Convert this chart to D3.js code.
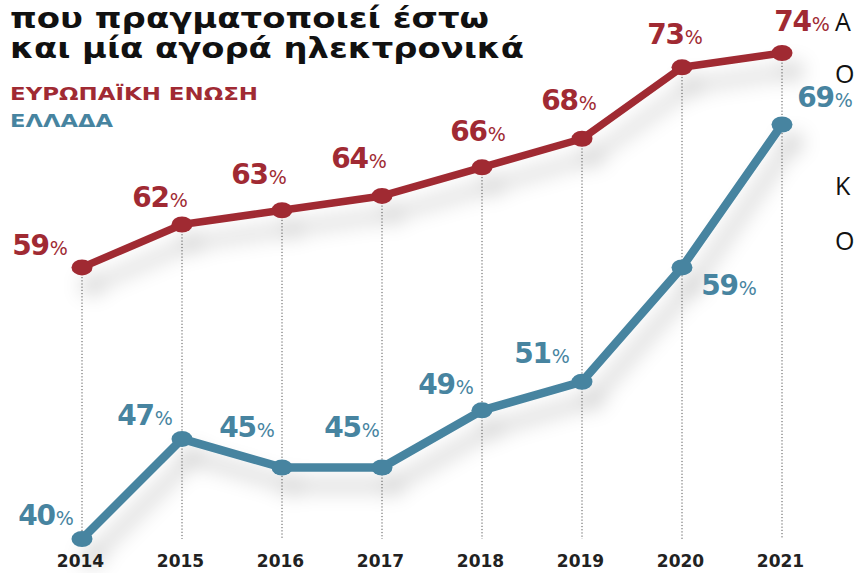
<!DOCTYPE html>
<html>
<head>
<meta charset="utf-8">
<script src="https://cdn.jsdelivr.net/npm/d3@7/dist/d3.min.js"></script>
<style>
  html, body { margin: 0; padding: 0; background: #ffffff; overflow: hidden; }
  svg { display: block; }
</style>
</head>
<body>
<svg id="chart" width="855" height="573"></svg>
<script>
// Share of people who made at least one online purchase
const years = ["2014", "2015", "2016", "2017", "2018", "2019", "2020", "2021"];
const euValues = [59, 62, 63, 64, 66, 68, 73, 74];
const grValues = [40, 47, 45, 45, 49, 51, 59, 69];

const titleLines = ["που πραγματοποιεί έστω", "και μία αγορά ηλεκτρονικά"];
const seriesNames = ["ΕΥΡΩΠΑΪΚΗ ΕΝΩΣΗ", "ΕΛΛΑΔΑ"];
const sideLetters = ["Α", "Ο", "Κ", "Ο"];

// label nudges relative to each point (layout only)
const euLabelDx = [-42, -22, -23, -23, -4, -13, -7, 20];
const euLabelDy = [-12, -18, -26, -28, -26, -29, -23, -22];
const grLabelDx = [-36, -37, -35, -30, -36, -40, 47, 43];
const grLabelDy = [-14, -14, -31, -31, -16, -19, 28, -17];

const RED = "#a02a33";
const BLUE = "#4784a0";

const svg = d3.select("#chart");

const x = d3.scalePoint().domain(years).range([82, 782]);
const y = d3.scaleLinear().domain([40, 74]).range([539, 53]);

// soft drop shadow under the lines
const defs = svg.append("defs");
const f = defs.append("filter").attr("id", "shadow")
  .attr("x", "-20%").attr("y", "-20%").attr("width", "150%").attr("height", "170%");
f.append("feGaussianBlur").attr("in", "SourceAlpha").attr("stdDeviation", 10).attr("result", "b");
f.append("feOffset").attr("in", "b").attr("dx", 10).attr("dy", 18).attr("result", "o");
f.append("feFlood").attr("flood-color", "#000").attr("flood-opacity", 0.22).attr("result", "c");
f.append("feComposite").attr("in", "c").attr("in2", "o").attr("operator", "in").attr("result", "s");
const m = f.append("feMerge");
m.append("feMergeNode").attr("in", "s");
m.append("feMergeNode").attr("in", "SourceGraphic");

// title
const fontBold = "'DejaVu Sans', sans-serif";
const titleWidths = [479, 514];
svg.selectAll("text.title").data(titleLines).join("text")
  .attr("class", "title")
  .attr("x", 10)
  .attr("y", (d, i) => 28 + i * 30)
  .attr("font-family", fontBold)
  .attr("font-weight", "bold")
  .attr("font-size", 28)
  .attr("fill", "#111")
  .attr("textLength", (d, i) => titleWidths[i])
  .attr("lengthAdjust", "spacingAndGlyphs")
  .text(d => d);

// legend
const legendWidths = [248, 103];
svg.selectAll("text.legend").data(seriesNames).join("text")
  .attr("class", "legend")
  .attr("x", 10)
  .attr("y", (d, i) => 100 + i * 27)
  .attr("font-family", fontBold)
  .attr("font-weight", "bold")
  .attr("font-size", 18)
  .attr("fill", (d, i) => i === 0 ? RED : BLUE)
  .attr("textLength", (d, i) => legendWidths[i])
  .attr("lengthAdjust", "spacingAndGlyphs")
  .text(d => d);

// neighbouring column text
const sideY = [31, 83, 195, 250];
svg.selectAll("text.side").data(sideLetters).join("text")
  .attr("class", "side")
  .attr("x", 835)
  .attr("y", (d, i) => sideY[i])
  .attr("font-family", "'Open Sans', sans-serif")
  .attr("font-size", 25)
  .attr("fill", "#111")
  .text(d => d);

// dotted drop lines from the upper point to the baseline
svg.append("g").selectAll("line").data(years).join("line")
  .attr("x1", d => x(d)).attr("x2", d => x(d))
  .attr("y1", (d, i) => y(Math.max(euValues[i], grValues[i])))
  .attr("y2", y(40))
  .attr("stroke", "#555")
  .attr("stroke-width", 1)
  .attr("stroke-dasharray", "1.2,2");

// year axis
const axis = svg.append("g")
  .attr("transform", `translate(0, 555)`)
  .call(d3.axisBottom(x).tickSize(0).tickPadding(0));
axis.select(".domain").remove();
axis.selectAll("text")
  .attr("font-family", fontBold)
  .attr("font-weight", "bold")
  .attr("font-size", 17)
  .attr("fill", "#222")
  .attr("dx", -2);

function drawSeries(values, color, width, dxs, dys) {
  const g = svg.append("g").attr("filter", "url(#shadow)");
  const pts = years.map((yr, i) => [x(yr), y(values[i])]);
  g.append("path")
    .attr("d", d3.line()(pts))
    .attr("fill", "none")
    .attr("stroke", color)
    .attr("stroke-width", width)
    .attr("stroke-linejoin", "round");
  g.selectAll("ellipse").data(values).join("ellipse")
    .attr("cx", (d, i) => x(years[i]))
    .attr("cy", d => y(d))
    .attr("rx", 10.5)
    .attr("ry", 8)
    .attr("fill", color);

  const labels = svg.append("g").selectAll("text").data(values).join("text")
    .attr("x", (d, i) => x(years[i]) + dxs[i])
    .attr("y", (d, i) => y(d) + dys[i])
    .attr("text-anchor", "middle")
    .attr("fill", color);
  labels.append("tspan")
    .attr("font-family", fontBold)
    .attr("font-weight", "bold")
    .attr("font-size", 28)
    .attr("letter-spacing", -1.2)
    .text(d => d);
  labels.append("tspan")
    .attr("font-family", fontBold)
    .attr("font-size", 19)
    .attr("dx", 1)
    .text("%");
}

drawSeries(euValues, RED, 7.5, euLabelDx, euLabelDy);
drawSeries(grValues, BLUE, 8.5, grLabelDx, grLabelDy);
</script>
</body>
</html>
